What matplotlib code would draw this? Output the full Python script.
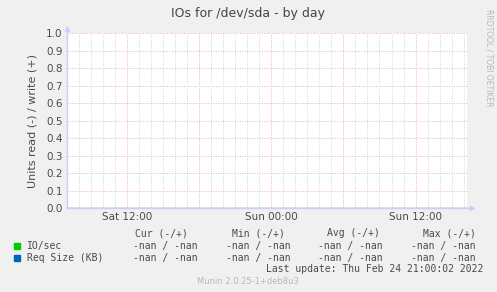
import numpy as np
import matplotlib
matplotlib.use("Agg")
import matplotlib.pyplot as plt
from matplotlib.ticker import MultipleLocator, FixedLocator

# data (hours since Sat 00:00) - no values recorded, everything is nan
t_start, t_end = 7.0, 40.25
hours = [7.0, 40.25]
io_read = [np.nan, np.nan]
io_write = [np.nan, np.nan]
req_read = [np.nan, np.nan]
req_write = [np.nan, np.nan]

tick_hours = [12, 24, 36]
tick_labels = ["Sat 12:00", "Sun 00:00", "Sun 12:00"]
y_ticks = [0.0, 0.1, 0.2, 0.3, 0.4, 0.5, 0.6, 0.7, 0.8, 0.9, 1.0]

series_names = ["IO/sec", "Req Size (KB)"]
series_colors = ["#00CC00", "#0066B3"]
stat_headers = ["Cur (-/+)", "Min (-/+)", "Avg (-/+)", "Max (-/+)"]
stat_values = [["-nan / -nan"] * 4, ["-nan / -nan"] * 4]

W, H = 497, 292
bg = "#F0F0F0"
txt = "#4a4a4a"

fig = plt.figure(figsize=(W / 100, H / 100), dpi=100, facecolor=bg)
ax = fig.add_axes([66.7 / W, 1 - 208.3 / H, 400 / W, 175 / H])
ax.set_facecolor("white")

ax.plot(hours, io_read, color=series_colors[0])
ax.plot(hours, io_write, color=series_colors[0])
ax.plot(hours, req_read, color=series_colors[1])
ax.plot(hours, req_write, color=series_colors[1])

ax.set_xlim(t_start, t_end)
ax.set_ylim(0, 1.0)

# grid: gray dotted every hour, red dotted every 6 hours / 0.1
ax.xaxis.set_minor_locator(MultipleLocator(1))
ax.xaxis.set_major_locator(FixedLocator(tick_hours))
ax.set_xticklabels(tick_labels)
ax.set_yticks(y_ticks)
ax.set_yticklabels(["%.1f" % v for v in y_ticks])
ax.grid(which="minor", axis="x", color="#d4d4d4", linestyle=(0, (1, 1.5)), linewidth=0.7)
for h in np.arange(12, 40, 6):
    ax.axvline(h, color="#f3b0b0", linestyle=(0, (1, 1.5)), linewidth=0.7, zorder=1.5)
for v in y_ticks[1:]:
    ax.axhline(v, color="#f3b0b0", linestyle=(0, (1, 1.5)), linewidth=0.7, zorder=1.5)

ax.tick_params(which="both", length=0, labelsize=7.5, colors=txt, pad=3)
for s in ax.spines.values():
    s.set_visible(False)

# axes with arrows
ax.plot([t_start, t_start], [0, 1.02], color="#ccccff", lw=1, clip_on=False, zorder=3)
ax.plot([t_start, t_end + 0.4], [0, 0], color="#ccccff", lw=1, clip_on=False, zorder=3)
ax.axhline(0, color="#7878a0", lw=1, zorder=4)
ax.plot([t_start], [1.025], marker="^", color="#ccccff", ms=3, clip_on=False, zorder=3)
ax.plot([t_end + 0.45], [0], marker=">", color="#ccccff", ms=3, clip_on=False, zorder=3)

ax.set_ylabel("Units read (-) / write (+)", fontsize=8, color=txt, labelpad=6)

def px(x, y):
    return x / W, 1 - y / H

fig.text(*px(248, 13), "IOs for /dev/sda - by day", ha="center", va="center",
         fontsize=9, color="#444444")
fig.text(*px(489, 58), "RRDTOOL / TOBI OETIKER", rotation=270, ha="center",
         va="center", fontsize=5.5, color="#b8b8b8")

mono = "DejaVu Sans Mono"
header_x = [135, 231.7, 327.3, 423.3]
value_x = [132.7, 226, 318.5, 411]
for hx, hd in zip(header_x, stat_headers):
    fig.text(*px(hx, 233), hd, fontsize=7, family=mono, color=txt, va="center")

row_y = [245.7, 258]
for ry, name, col, vals in zip(row_y, series_names, series_colors, stat_values):
    fig.patches.append(plt.Rectangle(px(14, ry + 3), 6 / W, 6 / H,
                                     transform=fig.transFigure, color=col))
    fig.text(*px(26.7, ry), name, fontsize=7, family=mono, color=txt, va="center")
    for vx, v in zip(value_x, vals):
        fig.text(*px(vx, ry), v, fontsize=7, family=mono, color=txt, va="center")

fig.text(*px(483.5, 269.5), "Last update: Thu Feb 24 21:00:02 2022", fontsize=7,
         family=mono, color=txt, va="center", ha="right")
fig.text(*px(248, 281), "Munin 2.0.25-1+deb8u3", fontsize=6, color="#b8b8b8",
         ha="center", va="center")

fig.savefig("out.png", dpi=100, facecolor=bg)
